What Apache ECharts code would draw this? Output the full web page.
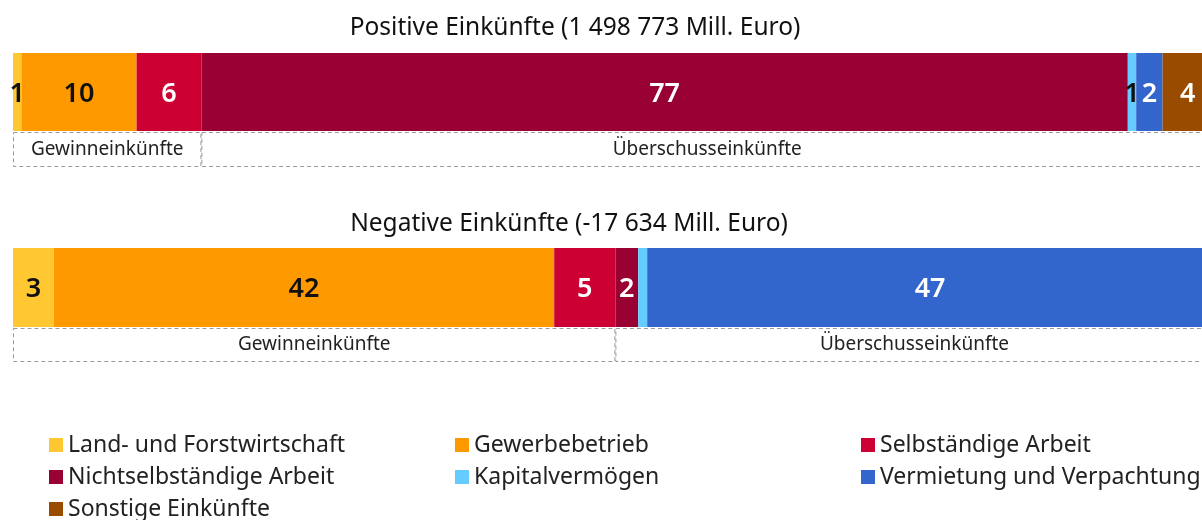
<!DOCTYPE html>
<html>
<head>
<meta charset="utf-8">
<script src="https://cdn.jsdelivr.net/npm/echarts@6/dist/echarts.min.js"></script>
<style>
  html, body { margin: 0; padding: 0; background: #fff; }
  #chart { width: 1202px; height: 520px; }
</style>
</head>
<body>
<div id="chart"></div>
<script>
// Einkunftsarten (Anteile in %)
const categories = [
  'Land- und Forstwirtschaft',
  'Gewerbebetrieb',
  'Selbständige Arbeit',
  'Nichtselbständige Arbeit',
  'Kapitalvermögen',
  'Vermietung und Verpachtung',
  'Sonstige Einkünfte'
]
const colors = ['#ffc832', '#ff9900', '#cc0033', '#990033', '#66ccff', '#3366cc', '#994c00']
const labelColors = ['#111', '#111', '#fff', '#fff', '#111', '#fff', '#fff']

const posValues = [0.7, 9.6, 5.4, 77.2, 0.7, 2.2, 4.2]
const posLabels = ['1', '10', '6', '77', '1', '2', '4']
const negValues = [3.4, 41.7, 5.1, 1.9, 0.75, 47.2, 0]
const negLabels = ['3', '42', '5', '2', '', '47', '']

const groupNames = ['Gewinneinkünfte', 'Überschusseinkünfte']
const gewinnCount = 3 // Land, Gewerbe, Selbständig

const titles = ['Positive Einkünfte (1 498 773 Mill. Euro)', 'Negative Einkünfte (-17 634 Mill. Euro)']

const font = 'Noto Sans'
const sum = arr => arr.reduce((a, b) => a + b, 0)

const chart = echarts.init(document.getElementById('chart'))

// grids: 0 = pos bar, 1 = pos groups, 2 = neg bar, 3 = neg groups
const gridTops = [53, 132, 248, 328]
const gridHeights = [78, 35, 79, 34]

const barSeries = (values, labels, idx, stack) => categories.map((name, i) => ({
  name: name,
  type: 'bar',
  stack: stack,
  xAxisIndex: idx,
  yAxisIndex: idx,
  barWidth: '100%',
  data: [values[i]],
  itemStyle: { color: colors[i] },
  label: {
    show: labels[i] !== '',
    position: 'inside',
    formatter: labels[i],
    color: labelColors[i],
    fontFamily: font,
    fontSize: 27,
    fontWeight: 600,
    offset: [0, 2]
  },
  emphasis: { disabled: true },
  silent: true
}))

const groupSeries = (values, idx, stack) => {
  const g = [sum(values.slice(0, gewinnCount)), sum(values.slice(gewinnCount))]
  return groupNames.map((name, i) => ({
    name: name,
    type: 'bar',
    stack: stack,
    xAxisIndex: idx,
    yAxisIndex: idx,
    barWidth: '100%',
    data: [g[i]],
    itemStyle: {
      color: 'rgba(0,0,0,0)',
      borderColor: '#9a9a9a',
      borderWidth: 1,
      borderType: [4, 3]
    },
    label: {
      show: true,
      position: 'inside',
      formatter: name,
      color: '#222',
      fontFamily: font,
      fontSize: 19
    },
    emphasis: { disabled: true },
    silent: true
  }))
}

const legendCols = [
  [categories[0], categories[3], categories[6]],
  [categories[1], categories[4]],
  [categories[2], categories[5]]
]
const legendLefts = [44, 450, 856]

chart.setOption({
  animation: false,
  title: titles.map((t, i) => ({
    text: t,
    left: i === 0 ? 570 : 564,
    textAlign: 'center',
    top: i === 0 ? 11 : 207,
    textStyle: { fontFamily: font, fontSize: 24.5, fontWeight: 'normal', color: '#111' }
  })),
  legend: legendCols.map((d, i) => ({
    data: d,
    orient: 'vertical',
    left: legendLefts[i],
    top: 428,
    height: 200,
    icon: 'rect',
    itemWidth: 14,
    itemHeight: 14,
    itemGap: 8,
    selectedMode: false,
    textStyle: { fontFamily: font, fontSize: 23, lineHeight: 24, color: '#222', padding: [0, 0, 0, 0] }
  })),
  grid: gridTops.map((t, i) => ({
    left: 13,
    width: 1200,
    top: t,
    height: gridHeights[i],
    outerBoundsMode: 'none'
  })),
  xAxis: gridTops.map((t, i) => ({
    type: 'value',
    gridIndex: i,
    min: 0,
    max: 100,
    show: false
  })),
  yAxis: gridTops.map((t, i) => ({
    type: 'category',
    gridIndex: i,
    data: [''],
    show: false
  })),
  series: [
    ...barSeries(posValues, posLabels, 0, 'pos'),
    ...groupSeries(posValues, 1, 'posGroup'),
    ...barSeries(negValues, negLabels, 2, 'neg'),
    ...groupSeries(negValues, 3, 'negGroup')
  ]
})
</script>
</body>
</html>
